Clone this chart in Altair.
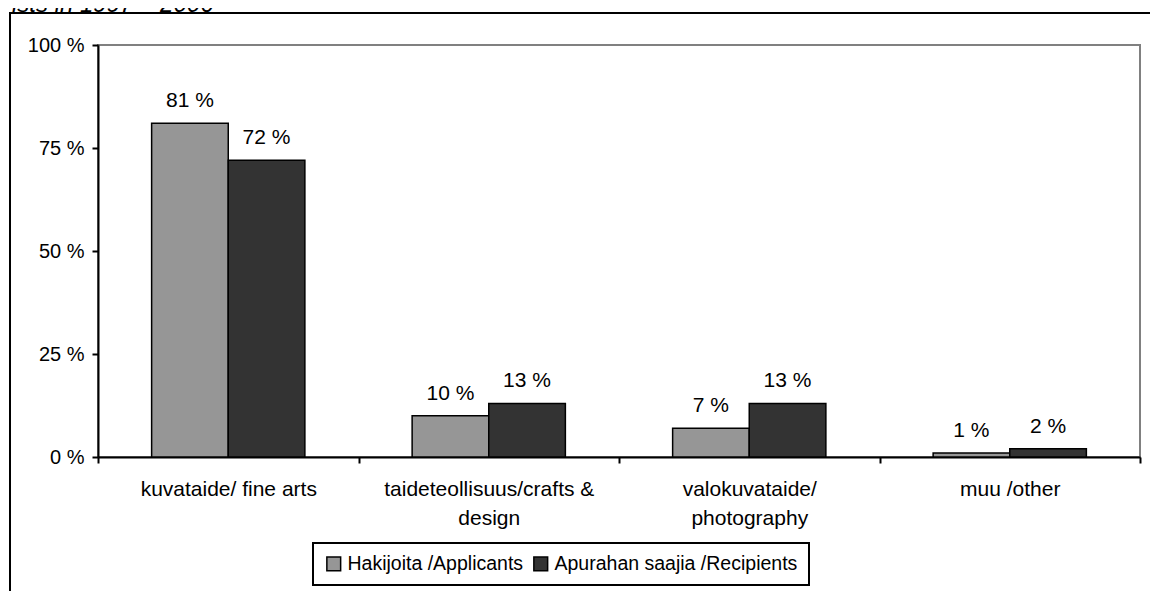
import altair as alt
import pandas as pd

categories = ["kuvataide/ fine arts", "taideteollisuus/crafts & design",
              "valokuvataide/ photography", "muu /other"]
series = ["Hakijoita /Applicants", "Apurahan saajia /Recipients"]
applicants = [81, 10, 7, 1]
recipients = [72, 13, 13, 2]
y_ticks = [0, 25, 50, 75, 100]
title_text = "ists  in 1997 \u2013 2006"

rows = []
for c, a, r in zip(categories, applicants, recipients):
    rows.append({"category": c, "series": series[0], "value": a, "label": f"{a} %"})
    rows.append({"category": c, "series": series[1], "value": r, "label": f"{r} %"})
df = pd.DataFrame(rows)

FONT = "Liberation Sans"

label_expr = ("datum.value == 'taideteollisuus/crafts & design' ? ['taideteollisuus/crafts &', 'design'] : "
              "datum.value == 'valokuvataide/ photography' ? ['valokuvataide/', 'photography'] : datum.value")

x_enc = alt.X("category:N", sort=categories, title=None,
              scale=alt.Scale(paddingInner=0, paddingOuter=0),
              axis=alt.Axis(tickBand="extent", labelAngle=0, labelExpr=label_expr,
                            labelFontSize=21, labelFont=FONT, labelColor="black",
                            labelPadding=15, labelLineHeight=29, tickSize=6,
                            labelBaseline="top", labelLimit=0))
xo_enc = alt.XOffset("series:N", sort=series,
                     scale=alt.Scale(paddingInner=0, paddingOuter=0.7))
y_enc = alt.Y("value:Q", title=None,
              scale=alt.Scale(domain=[0, 100], nice=False),
              axis=alt.Axis(values=y_ticks, labelExpr="datum.value + ' %'",
                            labelFontSize=20, labelFont=FONT, labelColor="black",
                            tickSize=6, labelPadding=8, grid=False))

bars = alt.Chart(df).mark_bar(stroke="black", strokeWidth=1.5).encode(
    x=x_enc, xOffset=xo_enc, y=y_enc,
    color=alt.Color("series:N", sort=series,
                    scale=alt.Scale(domain=series, range=["#969696", "#333333"]),
                    legend=alt.Legend(title=None, orient="none", direction="horizontal",
                                      legendX=215, legendY=498, columns=2,
                                      strokeColor="black", padding=11,
                                      labelFontSize=19.5, labelFont=FONT, labelColor="black",
                                      labelLimit=0,
                                      symbolType="square", symbolSize=190,
                                      symbolStrokeColor="black", symbolStrokeWidth=1.5,
                                      columnPadding=6, labelOffset=4)),
)

labels = alt.Chart(df).mark_text(font=FONT, fontSize=21, color="black",
                                 baseline="alphabetic", dy=-16).encode(
    x=alt.X("category:N", sort=categories), xOffset=alt.XOffset("series:N", sort=series),
    y="value:Q", text="label:N")

frame_df = pd.DataFrame({"t": [title_text]})
frame = alt.Chart(frame_df).mark_rect(fill=None, stroke="black", strokeWidth=2).encode(
    x=alt.value(-88), x2=alt.value(1060), y=alt.value(-32), y2=alt.value(560))
title = alt.Chart(frame_df).mark_text(font=FONT, fontSize=24, fontStyle="italic",
                                      align="left", baseline="alphabetic", color="black").encode(
    x=alt.value(-86), y=alt.value(-33), text="t:N")

chart = alt.layer(frame, title, bars, labels).properties(
    width=1042, height=412,
    autosize=alt.AutoSizeParams(type="none"),
    padding={"left": 90, "top": 37, "right": 10, "bottom": 134},
).configure_view(stroke="#808080", strokeWidth=2).configure_axis(
    domainColor="black", domainWidth=2, tickColor="black", tickWidth=2
).configure_legend(strokeWidth=2)

chart.save("out.html", embed_options={"renderer": "svg", "actions": False})
